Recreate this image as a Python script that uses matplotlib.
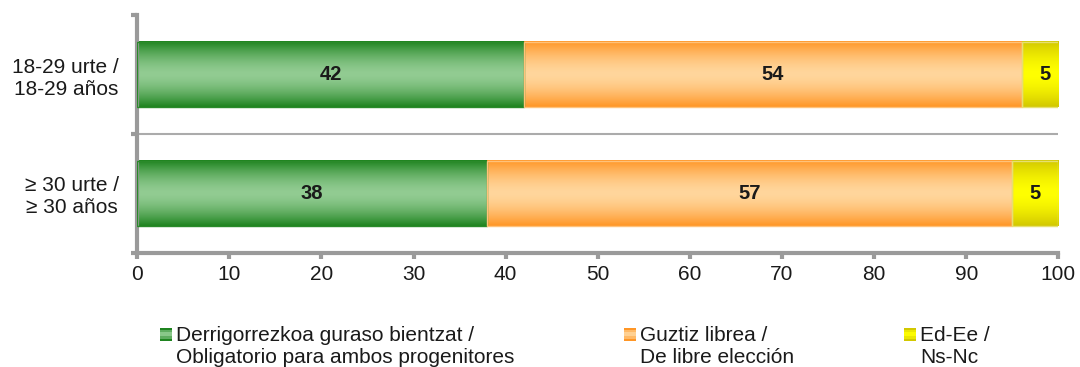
import numpy as np
import matplotlib
matplotlib.use("Agg")
import matplotlib.pyplot as plt
from matplotlib.patches import Rectangle
from matplotlib.legend_handler import HandlerPatch
from matplotlib.colors import to_rgb

# ============ Data ============
groups = ["18-29 urte /\n18-29 años", "≥ 30 urte /\n≥ 30 años"]
series = ["Derrigorrezkoa guraso bientzat /\nObligatorio para ambos progenitores",
          "Guztiz librea /\nDe libre elección",
          "Ed-Ee /\nNs-Nc"]
obligatorio = [42, 38]
libre = [54, 57]
nsnc = [5, 5]
values = [obligatorio, libre, nsnc]
xticks = [0, 10, 20, 30, 40, 50, 60, 70, 80, 90, 100]

# (edge colour, middle colour) for the gradient fills
grads = [("#1f8420", "#92cc92"),
         ("#ff9626", "#ffd69c"),
         ("#d2c800", "#ffff00")]
borders = ["#2a8a2a", "#ffc27a", "#e6e070"]

plt.rcParams['font.family'] = ['Liberation Sans', 'DejaVu Sans']
TXT = "#1a1a1a"
AX = "#9a9a9a"


def gradient(edge, mid, n=64):
    t = np.abs(np.linspace(-1, 1, n)) ** 1.6
    e, m = np.array(to_rgb(edge)), np.array(to_rgb(mid))
    return (m[None, :] + (e - m)[None, :] * t[:, None])[:, None, :]


class GradHandler(HandlerPatch):
    def __init__(self, edge, mid, shift):
        super().__init__()
        self.edge, self.mid, self.shift = edge, mid, shift

    def create_artists(self, legend, orig_handle, xdescent, ydescent,
                       width, height, fontsize, trans):
        cols = gradient(self.edge, self.mid, 6)[:, 0, :]
        arts = []
        h = height / len(cols)
        for i, c in enumerate(cols):
            r = Rectangle((-xdescent, -ydescent + self.shift * fontsize + i * h),
                          width, h * 1.05, facecolor=c, edgecolor='none',
                          transform=trans)
            arts.append(r)
        return arts


fig = plt.figure(figsize=(10.8, 3.67), dpi=100)
ax = fig.add_axes([0.127, 0.311, 0.853, 0.648])

ypos = np.arange(len(groups))
left = np.zeros(len(groups))
bh = 0.55
for k, vals in enumerate(values):
    bars = ax.barh(ypos, vals, left=left, height=bh, facecolor='none',
                   edgecolor=borders[k], linewidth=1, zorder=3)
    img = gradient(*grads[k])
    for b, v in zip(bars, vals):
        x0, y0 = b.get_x(), b.get_y()
        ax.imshow(img, extent=[x0, x0 + b.get_width(), y0 + b.get_height(), y0],
                  aspect='auto', interpolation='bilinear', zorder=2)
        ax.text(x0 + b.get_width() / 2, y0 + b.get_height() / 2, str(v),
                ha='center', va='center', fontsize=14.5, fontweight='bold',
                color=TXT, zorder=4)
    left = left + np.array(vals)

ax.set_xlim(0, 100)
ax.set_ylim(len(groups) - 0.5, -0.5)
ax.set_xticks(xticks)
ax.set_yticks(np.arange(len(groups) + 1) - 0.5)
ax.set_yticklabels([])
ax.set_yticks(ypos, minor=True)
ax.set_yticklabels(groups, minor=True, fontsize=15, color=TXT)
ax.tick_params(axis='y', which='minor', length=0, pad=13)
ax.tick_params(axis='y', which='major', length=4, width=3, color=AX)
ax.tick_params(axis='x', length=4, width=3, color=AX, labelsize=15,
               labelcolor=TXT, pad=5)
for lab in ax.get_yticklabels(minor=True):
    lab.set_multialignment('center')
for s in ['top', 'right']:
    ax.spines[s].set_visible(False)
for s in ['left', 'bottom']:
    ax.spines[s].set_color(AX)
    ax.spines[s].set_linewidth(3)

for y in ypos[:-1] + 0.5:
    ax.axhline(y, color="#ababab", linewidth=1.5, zorder=1)

handles = [Rectangle((0, 0), 1, 1) for _ in series]
hmap = {h: GradHandler(e, m, 0.6) for h, (e, m) in zip(handles, grads)}
fig.legend(handles, series, loc='upper left', bbox_to_anchor=(0.1385, 0.14),
           ncol=3, frameon=False, fontsize=15, handlelength=0.58,
           handleheight=0.58, handletextpad=0.2, columnspacing=5.25,
           borderpad=0, labelspacing=0, labelcolor=TXT, handler_map=hmap)

fig.savefig("out.png", dpi=100)
